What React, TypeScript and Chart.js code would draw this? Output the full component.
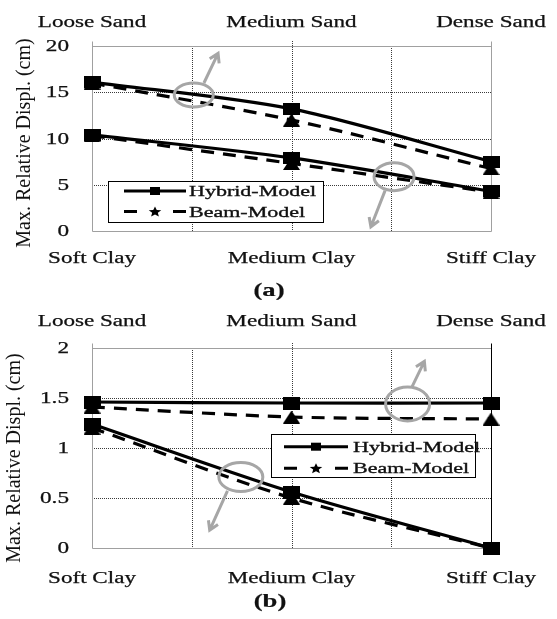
import React, { useEffect, useRef } from "react";
import { Chart, registerables } from "chart.js";
Chart.register(...registerables);

// ---------- data ----------
const bottomCategories = ["Soft Clay", "Medium Clay", "Stiff Clay"];
const topCategories = ["Loose Sand", "Medium Sand", "Dense Sand"];
const categoryPositions = [0, 1, 2];
const xGridValues = [0, 0.5, 1, 1.5, 2];
const seriesNames = ["Hybrid-Model", "Beam-Model"];

const yTicksA = [0, 5, 10, 15, 20];
const yTickLabelsA = ["0", "5", "10", "15", "20"];
const hybridUpperA = [16.1, 13.2, 7.5];
const beamUpperA = [16.0, 12.0, 6.75];
const hybridLowerA = [10.4, 7.9, 4.3];
const beamLowerA = [10.3, 7.3, 4.2];

const yTicksB = [0, 0.5, 1, 1.5, 2];
const yTickLabelsB = ["0", "0.5", "1", "1.5", "2"];
const hybridUpperB = [1.46, 1.45, 1.45];
const beamUpperB = [1.41, 1.31, 1.29];
const hybridLowerB = [1.24, 0.56, 0];
const beamLowerB = [1.2, 0.5, 0];

const yTitle = "Max. Relative Displ. (cm)";

// ---------- styling / layout ----------
const FONT = "'Liberation Serif', 'Times New Roman', serif";
const GRAY = "#a6a6a6";
const AXIS_GRAY = "#a0a0a0";

type Ann = { cx: number; cy: number; rx: number; ry: number; ax0: number; ay0: number; ax1: number; ay1: number };

type Panel = {
  height: number;
  top: number;
  padding: { top: number; bottom: number; left: number; right: number };
  yMax: number;
  yTicks: number[];
  yLabels: string[];
  hybrid: number[][];
  beam: number[][];
  sq: [number, number];
  tri: [number, number];
  legend: { x: number; y: number; w: number; h: number; rows: number[]; l0: number; l1: number; tx: number };
  topBase: number;
  bottomBase: number;
  titleX: number;
  titleY: number;
  letter: string;
  letterX: number;
  letterY: number;
  rightBorder: string;
  anns: Ann[];
};

const panels: Panel[] = [
  {
    height: 300,
    top: 0,
    padding: { top: 46, bottom: 69, left: 92, right: 66 },
    yMax: 20,
    yTicks: yTicksA,
    yLabels: yTickLabelsA,
    hybrid: [hybridUpperA, hybridLowerA],
    beam: [beamUpperA, beamLowerA],
    sq: [17, 12],
    tri: [17, 13],
    legend: { x: 108, y: 181, w: 215, h: 41, rows: [191, 211.5], l0: 124, l1: 186, tx: 189 },
    topBase: 26.5,
    bottomBase: 263,
    titleX: 25,
    titleY: 143,
    letter: "(a)",
    letterX: 269,
    letterY: 291.5,
    rightBorder: AXIS_GRAY,
    anns: [
      { cx: 0.51, cy: 14.7, rx: 19.5, ry: 12, ax0: 0.561, ay0: 16.0, ax1: 0.632, ay1: 19.2 },
      { cx: 1.514, cy: 5.87, rx: 20, ry: 14, ax0: 1.469, ay0: 4.36, ax1: 1.398, ay1: 0.46 },
    ],
  },
  {
    height: 319,
    top: 300,
    padding: { top: 48, bottom: 71, left: 92, right: 66 },
    yMax: 2,
    yTicks: yTicksB,
    yLabels: yTickLabelsB,
    hybrid: [hybridUpperB, hybridLowerB],
    beam: [beamUpperB, beamLowerB],
    sq: [17, 13],
    tri: [17, 13],
    legend: { x: 271, y: 134, w: 204, h: 43, rows: [146.7, 168.3], l0: 284, l1: 348, tx: 353 },
    topBase: 26,
    bottomBase: 282.5,
    titleX: 14.5,
    titleY: 158,
    letter: "(b)",
    letterX: 270,
    letterY: 302.5,
    rightBorder: "#000",
    anns: [
      { cx: 1.582, cy: 1.441, rx: 22, ry: 17, ax0: 1.604, ay0: 1.612, ax1: 1.666, ay1: 1.866 },
      { cx: 0.746, cy: 0.709, rx: 22, ry: 14.5, ax0: 0.679, ay0: 0.572, ax1: 0.59, ay1: 0.178 },
    ],
  },
];

function makeSquare(w: number, h: number) {
  const c = document.createElement("canvas");
  c.width = w;
  c.height = h;
  const g = c.getContext("2d")!;
  g.fillStyle = "#000";
  g.fillRect(0, 0, w, h);
  return c;
}

function makeTriangle(w: number, h: number) {
  const c = document.createElement("canvas");
  c.width = w;
  c.height = h;
  const g = c.getContext("2d")!;
  g.fillStyle = "#000";
  g.beginPath();
  g.moveTo(w / 2, 0);
  g.lineTo(w, h);
  g.lineTo(0, h);
  g.closePath();
  g.fill();
  return c;
}

function stretchedText(
  ctx: CanvasRenderingContext2D,
  text: string,
  x: number,
  y: number,
  font: string,
  sx: number,
  align: CanvasTextAlign,
  baseline: CanvasTextBaseline,
  heavy = 0.25
) {
  ctx.save();
  ctx.translate(x, y);
  ctx.scale(sx, 1);
  ctx.font = font;
  ctx.fillStyle = "#111";
  ctx.strokeStyle = "#111";
  ctx.lineWidth = heavy;
  ctx.textAlign = align;
  ctx.textBaseline = baseline;
  ctx.fillText(text, 0, 0);
  if (heavy > 0) ctx.strokeText(text, 0, 0);
  ctx.restore();
}

function drawStar(ctx: CanvasRenderingContext2D, cx: number, cy: number, r: number, sx: number) {
  ctx.save();
  ctx.translate(cx, cy);
  ctx.scale(sx, 1);
  ctx.beginPath();
  for (let i = 0; i < 10; i++) {
    const ang = -Math.PI / 2 + (i * Math.PI) / 5;
    const rr = i % 2 === 0 ? r : r * 0.45;
    const px = Math.cos(ang) * rr;
    const py = Math.sin(ang) * rr;
    if (i === 0) ctx.moveTo(px, py);
    else ctx.lineTo(px, py);
  }
  ctx.closePath();
  ctx.fillStyle = "#000";
  ctx.fill();
  ctx.restore();
}

function makePlugin(p: Panel) {
  return {
    id: "panelDecor",
    beforeDraw(chart: any) {
      const ctx = chart.ctx as CanvasRenderingContext2D;
      ctx.save();
      ctx.fillStyle = "#fff";
      ctx.fillRect(0, 0, chart.width, chart.height);
      ctx.restore();
    },
    beforeDatasetsDraw(chart: any) {
      const ctx = chart.ctx as CanvasRenderingContext2D;
      const xs = chart.scales.x;
      const ys = chart.scales.y;
      const { left, right, top, bottom } = chart.chartArea;
      ctx.save();
      ctx.lineWidth = 1;
      ctx.strokeStyle = "#3a3a3a";
      ctx.setLineDash([1, 1]);
      p.yTicks.forEach((v) => {
        if (v === p.yTicks[0] || v === p.yTicks[p.yTicks.length - 1]) return;
        const y = Math.round(ys.getPixelForValue(v)) + 0.5;
        ctx.beginPath();
        ctx.moveTo(left, y);
        ctx.lineTo(right, y);
        ctx.stroke();
      });
      xGridValues.forEach((v) => {
        if (v === xGridValues[0] || v === xGridValues[xGridValues.length - 1]) return;
        const x = Math.round(xs.getPixelForValue(v)) + 0.5;
        const ext = categoryPositions.includes(v) ? 5 : 0;
        ctx.beginPath();
        ctx.moveTo(x, top - ext);
        ctx.lineTo(x, bottom);
        ctx.stroke();
      });
      ctx.setLineDash([]);
      ctx.strokeStyle = AXIS_GRAY;
      const lx = Math.round(left) + 0.5;
      const rx = Math.round(right) + 0.5;
      const ty = Math.round(top) + 0.5;
      const by = Math.round(bottom) + 0.5;
      ctx.beginPath();
      ctx.moveTo(lx, ty - 5);
      ctx.lineTo(lx, by);
      ctx.lineTo(rx, by);
      ctx.moveTo(lx, ty);
      ctx.lineTo(rx, ty);
      ctx.stroke();
      ctx.strokeStyle = p.rightBorder;
      ctx.beginPath();
      ctx.moveTo(rx, ty - 5);
      ctx.lineTo(rx, by);
      ctx.stroke();
      ctx.restore();
    },
    afterDatasetsDraw(chart: any) {
      const ctx = chart.ctx as CanvasRenderingContext2D;
      const xs = chart.scales.x;
      const ys = chart.scales.y;
      ctx.save();
      ctx.strokeStyle = GRAY;
      ctx.lineWidth = 3;
      p.anns.forEach((a) => {
        const cx = xs.getPixelForValue(a.cx);
        const cy = ys.getPixelForValue(a.cy);
        ctx.beginPath();
        ctx.ellipse(cx, cy, a.rx, a.ry, 0, 0, Math.PI * 2);
        ctx.stroke();
        const x0 = xs.getPixelForValue(a.ax0);
        const y0 = ys.getPixelForValue(a.ay0);
        const x1 = xs.getPixelForValue(a.ax1);
        const y1 = ys.getPixelForValue(a.ay1);
        ctx.beginPath();
        ctx.moveTo(x0, y0);
        ctx.lineTo(x1, y1);
        const ang = Math.atan2(y1 - y0, x1 - x0);
        const L = 10;
        ctx.moveTo(x1 - L * Math.cos(ang - 0.55), y1 - L * Math.sin(ang - 0.55));
        ctx.lineTo(x1, y1);
        ctx.lineTo(x1 - L * Math.cos(ang + 0.55), y1 - L * Math.sin(ang + 0.55));
        ctx.stroke();
      });
      ctx.restore();

      const lg = p.legend;
      ctx.save();
      ctx.fillStyle = "#fff";
      ctx.fillRect(lg.x, lg.y, lg.w, lg.h);
      ctx.strokeStyle = "#000";
      ctx.lineWidth = 1;
      ctx.strokeRect(Math.round(lg.x) + 0.5, Math.round(lg.y) + 0.5, Math.round(lg.w), Math.round(lg.h));
      const mid = (lg.l0 + lg.l1) / 2;
      ctx.lineWidth = 3;
      ctx.beginPath();
      ctx.moveTo(lg.l0, lg.rows[0]);
      ctx.lineTo(lg.l1, lg.rows[0]);
      ctx.stroke();
      ctx.fillStyle = "#000";
      ctx.fillRect(mid - 5, lg.rows[0] - 4, 10, 8);
      ctx.beginPath();
      ctx.moveTo(lg.l0, lg.rows[1]);
      ctx.lineTo(lg.l0 + 13, lg.rows[1]);
      ctx.moveTo(lg.l1 - 13, lg.rows[1]);
      ctx.lineTo(lg.l1, lg.rows[1]);
      ctx.stroke();
      drawStar(ctx, mid, lg.rows[1] + 0.5, 5.5, 1.2);
      ctx.restore();
      seriesNames.forEach((name, i) => {
        stretchedText(ctx, name, lg.tx, lg.rows[i] + 1, `15.5px ${FONT}`, 1.42, "left", "middle", 0.35);
      });
    },
    afterDraw(chart: any) {
      const ctx = chart.ctx as CanvasRenderingContext2D;
      const xs = chart.scales.x;
      const ys = chart.scales.y;
      categoryPositions.forEach((v, i) => {
        const x = xs.getPixelForValue(v);
        stretchedText(ctx, topCategories[i], x, p.topBase, `16.5px ${FONT}`, 1.4, "center", "alphabetic");
        stretchedText(ctx, bottomCategories[i], x, p.bottomBase, `16.5px ${FONT}`, 1.4, "center", "alphabetic");
      });
      p.yTicks.forEach((v, i) => {
        const y = ys.getPixelForValue(v);
        stretchedText(ctx, p.yLabels[i], 69, y + 1, `16px ${FONT}`, 1.45, "right", "middle");
      });
      ctx.save();
      ctx.translate(p.titleX, p.titleY);
      ctx.rotate(-Math.PI / 2);
      ctx.font = `20px ${FONT}`;
      ctx.fillStyle = "#111";
      ctx.textAlign = "center";
      ctx.textBaseline = "middle";
      ctx.fillText(yTitle, 0, 0);
      ctx.restore();
      stretchedText(ctx, p.letter, p.letterX, p.letterY, `bold 19px ${FONT}`, 1.4, "center", "middle", 0.2);
    },
  };
}

function PanelChart({ p }: { p: Panel }) {
  const ref = useRef<HTMLCanvasElement | null>(null);
  useEffect(() => {
    if (!ref.current) return;
    const sq = makeSquare(p.sq[0], p.sq[1]);
    const tri = makeTriangle(p.tri[0], p.tri[1]);
    const toPts = (vals: number[]) => vals.map((v, i) => ({ x: categoryPositions[i], y: v }));
    const datasets: any[] = [];
    p.hybrid.forEach((vals) =>
      datasets.push({
        label: seriesNames[0],
        data: toPts(vals),
        borderColor: "#000",
        backgroundColor: "#000",
        borderWidth: 3.2,
        tension: 0.3,
        pointStyle: sq,
        pointRadius: 8,
        clip: false,
        fill: false,
      })
    );
    p.beam.forEach((vals) =>
      datasets.push({
        label: seriesNames[1],
        data: toPts(vals),
        borderColor: "#000",
        backgroundColor: "#000",
        borderWidth: 3.2,
        borderDash: [13, 9],
        tension: 0.3,
        pointStyle: tri,
        pointRadius: 8,
        clip: false,
        fill: false,
      })
    );
    const chart = new Chart(ref.current, {
      type: "line",
      data: { datasets },
      options: {
        responsive: false,
        animation: false,
        devicePixelRatio: 1,
        events: [],
        layout: { padding: p.padding },
        plugins: { legend: { display: false }, tooltip: { enabled: false } },
        scales: {
          x: { type: "linear", min: 0, max: 2, display: false },
          y: { type: "linear", min: 0, max: p.yMax, display: false },
        },
      },
      plugins: [makePlugin(p)],
    } as any);
    return () => chart.destroy();
  }, [p]);
  return (
    <canvas
      ref={ref}
      width={557}
      height={p.height}
      style={{ position: "absolute", left: 0, top: p.top, width: 557, height: p.height }}
    />
  );
}

export default function App() {
  return (
    <div style={{ position: "absolute", left: 0, top: 0, width: 557, height: 619, background: "#fff" }}>
      {panels.map((p, i) => (
        <PanelChart key={i} p={p} />
      ))}
    </div>
  );
}
